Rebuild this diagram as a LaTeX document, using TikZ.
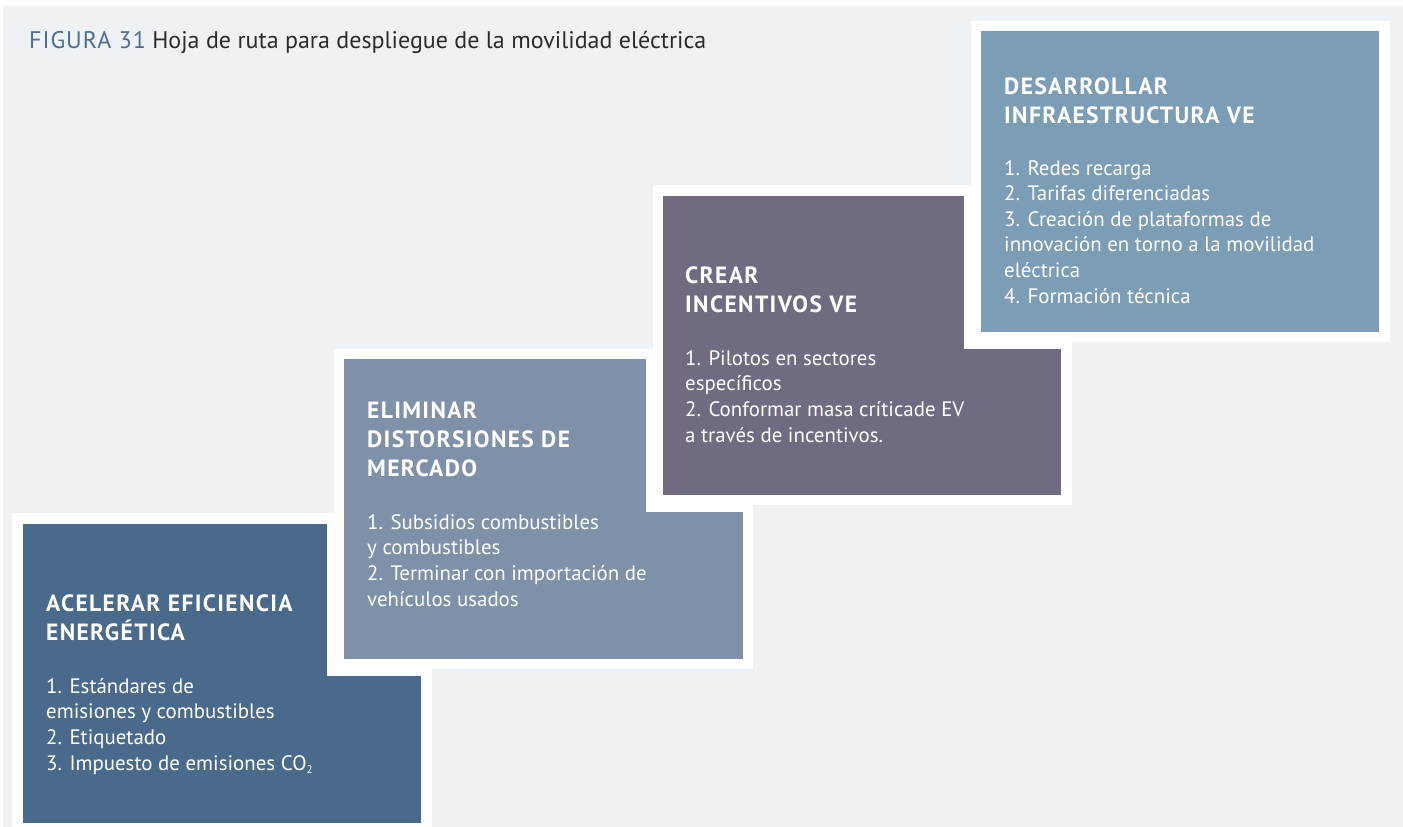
\documentclass[tikz,border=0pt]{standalone}
\usepackage{fontspec}
\setmainfont{PT Sans}
\definecolor{bgc}{HTML}{EEF2F5}
\definecolor{cA}{HTML}{4A6A8B}
\definecolor{cB}{HTML}{7F91A9}
\definecolor{cC}{HTML}{726A80}
\definecolor{cD}{HTML}{7B9DB6}
\definecolor{ttl}{HTML}{4C6E91}
\definecolor{txt}{HTML}{2B2B2B}
\tikzset{
  head/.style={anchor=base west, inner sep=0pt, align=left, text=white,
    font=\fontsize{23.5}{29}\selectfont\bfseries\addfontfeatures{LetterSpace=5.8}},
  body/.style={anchor=base west, inner sep=0pt, align=left, text=white,
    font=\fontsize{20.9}{25.6}\selectfont},
  frame/.style={fill=white},
}
\newcommand{\subtwo}{\raisebox{-0.35ex}{\fontsize{11}{11}\selectfont 2}}
\begin{document}
\begin{tikzpicture}[x=1pt,y=-1pt]
\useasboundingbox (0,0) rectangle (1403,827);
\fill[white] (0,0) rectangle (1403,827);
\fill[bgc] (3,6) rectangle (1403,827);
% title
\node[anchor=base west, inner sep=0pt, font=\fontsize{24}{28}\selectfont] (title) at (29,48)
  {\textcolor{ttl}{\addfontfeatures{LetterSpace=4}FIGURA 31} \textcolor{txt}{Hoja de ruta para despliegue de la movilidad eléctrica}};
% box 1
\fill[frame] (12,513) rectangle (432,827);
\fill[cA] (23,524) rectangle (421,823);
% box 2
\begin{scope}
  \clip (23,524) rectangle (421,823);
  \fill[frame] (327,342) rectangle (760,676);
\end{scope}
\fill[frame] (334,349) rectangle (753,669);
\fill[cB] (344,359) rectangle (743,659);
% box 3
\begin{scope}
  \clip (344,359) rectangle (743,659);
  \fill[frame] (646,179) rectangle (1078,512);
\end{scope}
\fill[frame] (653,185) rectangle (1072,505);
\fill[cC] (663,196) rectangle (1061,495);
% box 4
\begin{scope}
  \clip (663,196) rectangle (1061,495);
  \fill[frame] (964,14) rectangle (1396,349);
\end{scope}
\fill[frame] (971,21) rectangle (1390,342);
\fill[cD] (981,31) rectangle (1379,332);
% texts (anchor = baseline of the last line)
\node[head] (h1) at (46,640) {ACELERAR EFICIENCIA\\ENERGÉTICA};
\node[body] (t1) at (46,770) {1. Estándares de\\emisiones y combustibles\\2. Etiquetado\\3. Impuesto de emisiones CO\subtwo};
\node[head] (h2) at (367,476) {ELIMINAR\\DISTORSIONES DE\\MERCADO};
\node[body] (t2) at (367,606) {1. Subsidios combustibles\\y combustibles\\2. Terminar con importación de\\vehículos usados};
\node[head] (h3) at (685,312) {CREAR\\INCENTIVOS VE};
\node[body] (t3) at (685,442) {1. Pilotos en sectores\\específicos\\2. Conformar masa críticade EV\\a través de incentivos.};
\node[head] (h4) at (1004,123) {DESARROLLAR\\INFRAESTRUCTURA VE};
\node[body] (t4) at (1004,303) {1. Redes recarga\\2. Tarifas diferenciadas\\3. Creación de plataformas de\\innovación en torno a la movilidad\\eléctrica\\4. Formación técnica};
\end{tikzpicture}
\end{document}
